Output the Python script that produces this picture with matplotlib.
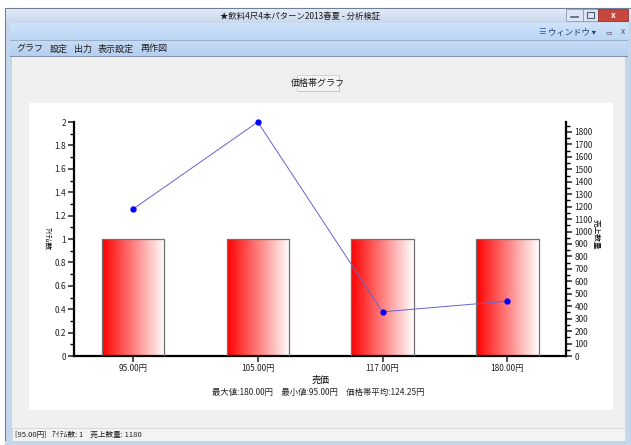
import numpy as np
import matplotlib
matplotlib.use("Agg")
import matplotlib.pyplot as plt
from matplotlib.patches import Rectangle
from matplotlib.ticker import MultipleLocator, FuncFormatter

plt.rcParams['font.family'] = ['Noto Sans CJK JP', 'DejaVu Sans']

# データ
prices = ['95.00円', '105.00円', '117.00円', '180.00円']
item_counts = [1, 1, 1, 1]
sales_qty = [1180, 1880, 355, 440]
qty_max = 1880

W, H = 631, 445
fig = plt.figure(figsize=(W / 100, H / 100), dpi=100)

# 背景 (ウィンドウ枠) はピクセル座標で描く
bg = fig.add_axes([0, 0, 1, 1], zorder=0)
bg.set_xlim(0, W)
bg.set_ylim(H, 0)
bg.axis('off')


def box(x0, y0, x1, y1, color, **kw):
    bg.add_patch(Rectangle((x0, y0), x1 - x0, y1 - y0, facecolor=color,
                           edgecolor=kw.pop('ec', 'none'), lw=kw.pop('lw', 0), **kw))


def vgrad(x0, y0, x1, y1, c0, c1):
    g = np.linspace(0, 1, 32)[:, None, None]
    c0 = np.array(matplotlib.colors.to_rgb(c0))
    c1 = np.array(matplotlib.colors.to_rgb(c1))
    img = c0 * (1 - g) + c1 * g
    bg.imshow(img, extent=(x0, x1, y1, y0), aspect='auto', zorder=1)


box(0, 0, W, H, 'white')
box(5, 8, W, H, '#c4d6ec', ec='#6f7f95', lw=0.8)
vgrad(6, 9, W, 23, '#e2ebf6', '#c8d8ec')
bg.text(300, 16, '★飲料4尺4本パターン2013春夏 - 分析検証', ha='center', va='center', fontsize=6, color='#1e1e1e')
# ウィンドウボタン
box(566, 9, 583, 21, '#dce6f2', ec='#8a9ab0', lw=0.6)
box(583, 9, 598, 21, '#dce6f2', ec='#8a9ab0', lw=0.6)
box(598, 9, 628, 21, '#c9463d', ec='#8a3a34', lw=0.6)
bg.plot([571, 578], [17, 17], color='#50607a', lw=1.2)
box(587, 12, 594, 18, 'none', ec='#50607a', lw=0.8)
bg.text(613, 15, 'x', ha='center', va='center', fontsize=6, color='white', fontweight='bold')

vgrad(10, 23, W - 3, 40, '#cfe2fa', '#bcd6f5')
bg.text(542, 32, '☰', ha='center', va='center', fontsize=6, color='#2d5fa8')
bg.text(548, 32, 'ウィンドウ ▾', ha='left', va='center', fontsize=6, color='#1e3c6e')
bg.text(609, 32, '▭', ha='center', va='center', fontsize=5, color='#556')
bg.text(623, 32, 'x', ha='center', va='center', fontsize=6, color='#556')
box(10, 40, W - 3, 41.5, '#9aaec8')
vgrad(10, 41.5, W - 3, 56, '#c6dbf5', '#b6cff0')
menu = ['グラフ', '設定', '出力', '表示設定', '再作図']
menu_x = [16, 50, 74, 98, 141]
for mx, label in zip(menu_x, menu):
    bg.text(mx, 49, label, ha='left', va='center', fontsize=6.5, color='#1e1e1e')
box(10, 56, W - 3, 57, '#7f8fa6')

box(12, 57, W - 6, 428, '#f0f0f0')
box(12, 428, W - 6, 441, '#f3f3f3', ec='#d8d8d8', lw=0.5)
box(5, 441, W, H, '#c4d6ec')
bg.text(15, 434.5, '[95.00円]   ｱｲﾃﾑ数: 1    売上数量: 1180', ha='left', va='center',
        fontsize=5.5, color='#222222')

# タイトルボタン
box(299, 76, 340, 92, '#a0a0a0')
box(297, 75, 339, 91, '#f4f4f4', ec='#c8c8c8', lw=0.5)
bg.text(318, 83, '価格帯グラフ', ha='center', va='center', fontsize=6.5, color='#1e1e1e')

box(29, 103, 612.5, 410, 'white')

# グラフ本体
ax = fig.add_axes([74.3 / W, 1 - 356 / H, (566 - 74.3) / W, 234 / H], zorder=2)
ax.patch.set_alpha(0)
x = np.arange(len(prices))
bar_w = 0.5
grad = np.linspace(0, 1, 256)[None, :]
cmap = matplotlib.colors.LinearSegmentedColormap.from_list('rw', ['#ff0000', '#ffffff'])
for xi, h in zip(x, item_counts):
    ax.imshow(grad, extent=(xi - bar_w / 2, xi + bar_w / 2, 0, h), aspect='auto',
              cmap=cmap, zorder=2)
    ax.add_patch(Rectangle((xi - bar_w / 2, 0), bar_w, h, facecolor='none',
                           edgecolor='#707070', lw=0.9, zorder=3))
ax.set_xlim(-0.47, len(prices) - 0.53)
ax.set_ylim(0, 2)
ax.set_xticks(x)
ax.set_xticklabels(prices)
ax.set_yticks(np.arange(0, 2.01, 0.2))
ax.yaxis.set_minor_locator(MultipleLocator(0.1))
ax.yaxis.set_major_formatter(FuncFormatter(lambda v, p: f'{v:g}'))
ax.spines['top'].set_visible(False)
ax.spines['right'].set_visible(False)
for s in ['left', 'bottom']:
    ax.spines[s].set_linewidth(1.6)
ax.tick_params(axis='both', which='major', length=4, width=1.1, labelsize=6, pad=2, colors='#222222')
ax.tick_params(axis='y', which='minor', length=3, width=1.0)
ax.set_ylabel('ｱｲﾃﾑ数', rotation=270, fontsize=5.5, va='center', ha='center')
ax.yaxis.set_label_coords(-0.056, 0.5)
ax.set_xlabel('売価', fontsize=6.5, labelpad=2)

ax2 = ax.twinx()
ax2.plot(x, sales_qty, color='#6464cc', lw=0.7, marker='o', ms=3.5,
         mfc='#0000ff', mec='#0000ff', zorder=5, clip_on=False)
ax2.set_ylim(0, qty_max)
ax2.yaxis.set_major_locator(MultipleLocator(100))
ax2.yaxis.set_minor_locator(MultipleLocator(50))
for s in ['top', 'left', 'bottom']:
    ax2.spines[s].set_visible(False)
ax2.spines['right'].set_linewidth(1.6)
ax2.tick_params(axis='y', which='major', length=4, width=1.1, labelsize=6, pad=2, colors='#222222')
ax2.tick_params(axis='y', which='minor', length=3, width=1.0)
ax2.set_ylabel('売上数量', rotation=270, fontsize=5.5, va='center', ha='center')
ax2.yaxis.set_label_coords(1.06, 0.52)

fig.text(318 / W, 1 - 392 / H, '最大値:180.00円　最小値:95.00円　価格帯平均:124.25円',
         ha='center', va='center', fontsize=6, color='#222222')

fig.savefig('out.png', dpi=100)
